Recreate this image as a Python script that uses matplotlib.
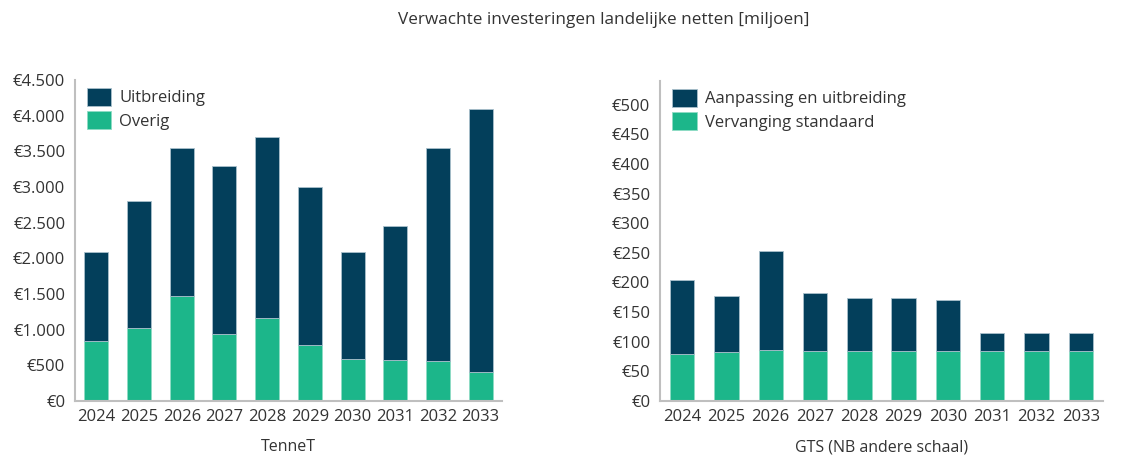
import matplotlib.pyplot as plt
from matplotlib.ticker import FuncFormatter

plt.rcParams['font.family'] = ['Open Sans', 'DejaVu Sans']

# data (miljoen euro)
jaren = ['2024', '2025', '2026', '2027', '2028', '2029', '2030', '2031', '2032', '2033']

tennet_totaal = [2090, 2800, 3550, 3300, 3700, 3000, 2090, 2450, 3550, 4100]
tennet_overig = [845, 1020, 1470, 940, 1160, 780, 590, 580, 560, 400]
tennet_uitbreiding = [t - o for t, o in zip(tennet_totaal, tennet_overig)]

gts_totaal = [204, 178, 253, 183, 173, 173, 170, 115, 115, 115]
gts_vervanging = [80, 83, 86, 84, 84, 84, 84, 84, 84, 84]
gts_aanpassing = [t - v for t, v in zip(gts_totaal, gts_vervanging)]

navy = '#033F5B'
groen = '#1CB68A'
tekst = '#333333'
as_grijs = '#BFBFBF'


def euro(x, pos):
    return '€' + '{:,.0f}'.format(x).replace(',', '.')


fig = plt.figure(figsize=(11.21, 4.55), dpi=100)
ax1 = fig.add_axes([75 / 1121, 54 / 455, 427 / 1121, 321 / 455])
ax2 = fig.add_axes([660 / 1121, 54 / 455, 443 / 1121, 320 / 455])

x = range(len(jaren))


def teken(ax, onder, boven, lab_onder, lab_boven, ymax, stap, xlabel, w):
    b1 = ax.bar(x, onder, width=w, color=groen, edgecolor='#8fdcc4', linewidth=0.6)
    b2 = ax.bar(x, boven, width=w, bottom=onder, color=navy, edgecolor='#a9c0cc', linewidth=0.6)
    ax.set_xlim(-0.5, len(jaren) - 0.5)
    ax.set_ylim(0, ymax)
    ax.set_yticks(range(0, int(ymax) + 1, stap))
    ax.yaxis.set_major_formatter(FuncFormatter(euro))
    ax.set_xticks(list(x))
    ax.set_xticklabels(jaren)
    ax.tick_params(axis='both', length=0, labelsize=12, colors=tekst)
    ax.tick_params(axis='y', pad=7)
    ax.tick_params(axis='x', pad=6)
    for s in ['top', 'right']:
        ax.spines[s].set_visible(False)
    for s in ['left', 'bottom']:
        ax.spines[s].set_color(as_grijs)
        ax.spines[s].set_linewidth(1.5)
    ax.set_xlabel(xlabel, fontsize=11.5, color=tekst, labelpad=10)
    ax.legend([b2, b1], [lab_boven, lab_onder], loc='upper left',
              bbox_to_anchor=(0.028, 0.975), frameon=False, fontsize=12,
              handlelength=1.45, handleheight=1.25, handletextpad=0.5,
              labelspacing=0.3, borderpad=0, borderaxespad=0, labelcolor=tekst)


teken(ax1, tennet_overig, tennet_uitbreiding, 'Overig', 'Uitbreiding',
      4500, 500, 'TenneT', 0.56)
teken(ax2, gts_vervanging, gts_aanpassing, 'Vervanging standaard', 'Aanpassing en uitbreiding',
      540, 50, 'GTS (NB andere schaal)', 0.55)

fig.text(604 / 1121, 1 - 20 / 455, 'Verwachte investeringen landelijke netten [miljoen]',
         ha='center', va='center', fontsize=12.3, color=tekst)

fig.savefig('out.png', dpi=100)
